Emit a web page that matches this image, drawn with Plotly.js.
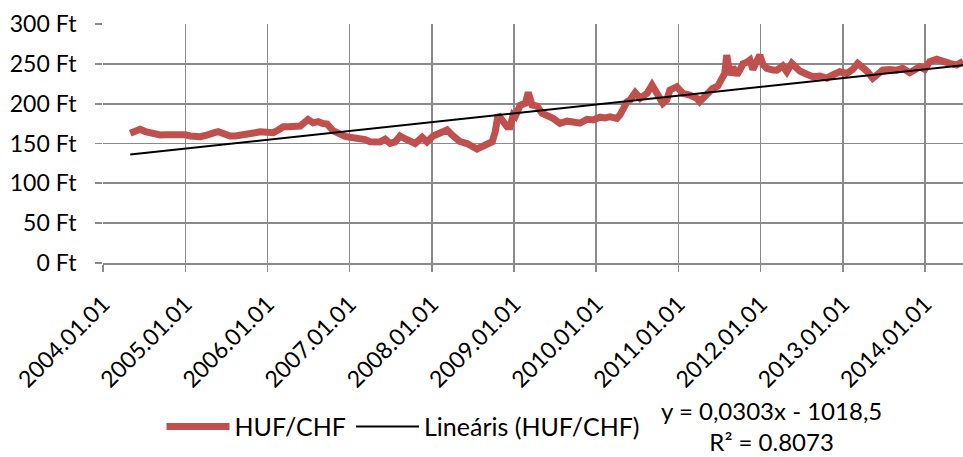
<!DOCTYPE html>
<html>
<head>
<meta charset="utf-8">
<script src="https://cdn.plot.ly/plotly-3.0.1.min.js"></script>
<style>html,body{margin:0;padding:0;background:#fff;}#chart{width:963px;height:457px;}</style>
</head>
<body>
<div id="chart"></div>
<script>
// HUF/CHF exchange rate (Ft)
const dates = ['2004-05-01','2004-05-23','2004-06-14','2004-07-07','2004-07-29','2004-08-20','2004-09-11','2004-10-03','2004-10-26','2004-11-17','2004-12-09',
'2005-01-01','2005-01-23','2005-02-14','2005-03-08','2005-03-31','2005-04-22','2005-05-14','2005-05-27','2005-06-23','2005-07-19','2005-08-11','2005-09-02','2005-09-24','2005-10-16','2005-11-07','2005-11-30',
'2006-01-01','2006-01-27','2006-02-18','2006-03-12','2006-04-03','2006-04-25','2006-05-26','2006-06-13','2006-06-30','2006-07-23','2006-08-14','2006-09-05','2006-09-23','2006-10-19','2006-11-19','2006-12-12',
'2007-01-03','2007-01-25','2007-02-16','2007-03-11','2007-04-02','2007-04-24','2007-05-16','2007-06-08','2007-06-30','2007-07-22','2007-08-13','2007-09-04','2007-09-27','2007-10-19','2007-11-19','2007-12-11',
'2008-01-07','2008-02-07','2008-03-09','2008-03-31','2008-04-18','2008-05-06','2008-06-06','2008-07-03','2008-07-20','2008-08-03','2008-09-04','2008-09-26','2008-10-09','2008-10-22','2008-11-09','2008-12-01','2008-12-14','2008-12-28',
'2009-01-06','2009-01-28','2009-02-20','2009-03-05','2009-03-22','2009-04-13','2009-05-05','2009-05-27','2009-06-23','2009-07-24','2009-08-24','2009-09-20','2009-10-21','2009-11-21','2009-12-18',
'2010-01-18','2010-02-09','2010-03-03','2010-04-03','2010-04-17','2010-04-30','2010-05-18','2010-05-31','2010-06-23','2010-07-15','2010-08-15','2010-09-06','2010-09-28','2010-10-24','2010-11-11','2010-11-24','2010-12-25',
'2011-01-21','2011-02-21','2011-03-24','2011-04-06','2011-05-07','2011-06-02','2011-06-25','2011-07-12','2011-07-26','2011-08-04','2011-08-18','2011-08-31','2011-09-18','2011-10-01','2011-10-15','2011-11-01','2011-11-15','2011-11-28','2011-12-16','2011-12-29',
'2012-01-12','2012-01-29','2012-02-25','2012-03-14','2012-04-09','2012-04-27','2012-05-19','2012-06-10','2012-06-24','2012-07-25','2012-08-21','2012-09-21','2012-10-22','2012-11-17','2012-12-18',
'2013-01-18','2013-02-14','2013-03-08','2013-03-30','2013-04-21','2013-05-14','2013-06-05','2013-06-27','2013-07-28','2013-08-28','2013-09-24','2013-10-25','2013-11-25','2013-12-09','2013-12-31',
'2014-01-22','2014-02-22','2014-03-21','2014-04-21','2014-05-22','2014-06-13','2014-06-20'];

const hufChf = [162.8,165,167.8,165,163,162,160.7,161,161.5,162,161.5,
161,159.4,158.5,158.5,160,163,164,164.8,162,159.4,159.5,160,161,162.8,163.5,164.8,
163.6,163.6,167,171,171,171,172,176,180,176,177.4,175,174.5,166,161,159,
157.8,157,156,155,152.3,151.5,152,155.3,150.2,152,159.4,156,152.3,150,157.8,152,
159.4,162.8,167,160.7,156,152.3,150,144,143,145,148,152.3,164.8,186,179.5,171,171,186,
184,198,200.4,214,198.3,197,188,186,181.6,175.3,178,177,175.5,180.4,179.5,
183,182,183.6,181.6,186,194.2,202.5,204.6,213.8,206.7,213,223.4,211,200.4,205,217,221.3,
213,210.9,206.7,202.5,211,219,222,229.7,238,261,236,246,236,242.2,250,252,254.8,243,254.8,261,
249,244.4,242.2,242,247.3,240,250.6,244,241,237,233.8,234.7,232,236,240,
238,243,250.6,246.4,240,231.8,238,242.2,243,242,244.4,238.9,244,246.4,243,
252.7,255.7,252.7,250.6,248.5,251.4,253];

// Linear trendline shown in the chart: y = 0,0303x - 1018,5 (x = Excel date serial)
const trendSlope = 0.0303;
const trendIntercept = -1018.5;
const trendText = 'y = 0,0303x - 1018,5<br>R² = 0.8073';

const yTickVals = [0, 50, 100, 150, 200, 250, 300];
const yTickText = ['0 Ft', '50 Ft', '100 Ft', '150 Ft', '200 Ft', '250 Ft', '300 Ft'];

function excelSerial(d) {
  const p = d.split('-').map(Number);
  return (Date.UTC(p[0], p[1] - 1, p[2]) - Date.UTC(1899, 11, 30)) / 86400000;
}
const trendX = [dates[0], dates[dates.length - 1]];
const trendY = trendX.map(d => trendSlope * excelSerial(d) + trendIntercept);

const font = {family: 'Lato, "Open Sans", sans-serif', size: 23, color: '#000'};
const legendFont = {family: 'Lato, "Open Sans", sans-serif', size: 25, color: '#000'};
const eqFont = {family: 'Lato, "Open Sans", sans-serif', size: 24, color: '#000'};

const data = [
  {x: dates, y: hufChf, type: 'scatter', mode: 'lines', name: 'HUF/CHF',
   line: {color: '#C0504D', width: 7, shape: 'linear'}},
  {x: trendX, y: trendY, type: 'scatter', mode: 'lines', name: 'Lineáris (HUF/CHF)',
   line: {color: '#000000', width: 2}}
];

const layout = {
  width: 963, height: 457,
  margin: {l: 103, r: 0, t: 24, b: 194},
  paper_bgcolor: '#fff', plot_bgcolor: '#fff',
  font: font,
  showlegend: true,
  legend: {orientation: 'h', x: 0.068, xanchor: 'left', y: -0.685, yanchor: 'middle',
           font: legendFont, bgcolor: 'rgba(0,0,0,0)', itemwidth: 63},
  xaxis: {
    type: 'date', range: ['2004-01-01', '2014-06-19'],
    tick0: '2004-01-01', dtick: 'M12', tickformat: '%Y.%m.%d', tickangle: -45,
    showgrid: true, gridcolor: '#8a8a8a', gridwidth: 1.7,
    ticks: 'outside', ticklen: 7, tickcolor: '#8a8a8a', tickwidth: 1.7,
    ticklabelstandoff: 10,
    showline: true, linecolor: '#8a8a8a', linewidth: 1.7,
    zeroline: false, tickfont: font, fixedrange: true
  },
  yaxis: {
    range: [0, 300], tickvals: yTickVals, ticktext: yTickText,
    showgrid: true, gridcolor: '#8a8a8a', gridwidth: 1.7,
    ticks: 'outside', ticklen: 7, tickcolor: '#8a8a8a', tickwidth: 1.7,
    ticklabelstandoff: 14,
    showline: false, zeroline: false, tickfont: font, fixedrange: true
  },
  annotations: [
    {xref: 'paper', yref: 'paper', x: 0.777, y: (263 - 457) / 239, xanchor: 'center', yanchor: 'bottom',
     text: trendText, showarrow: false, align: 'center', borderpad: 0, font: eqFont}
  ]
};

Plotly.newPlot('chart', data, layout, {displayModeBar: false, staticPlot: true});
</script>
</body>
</html>
